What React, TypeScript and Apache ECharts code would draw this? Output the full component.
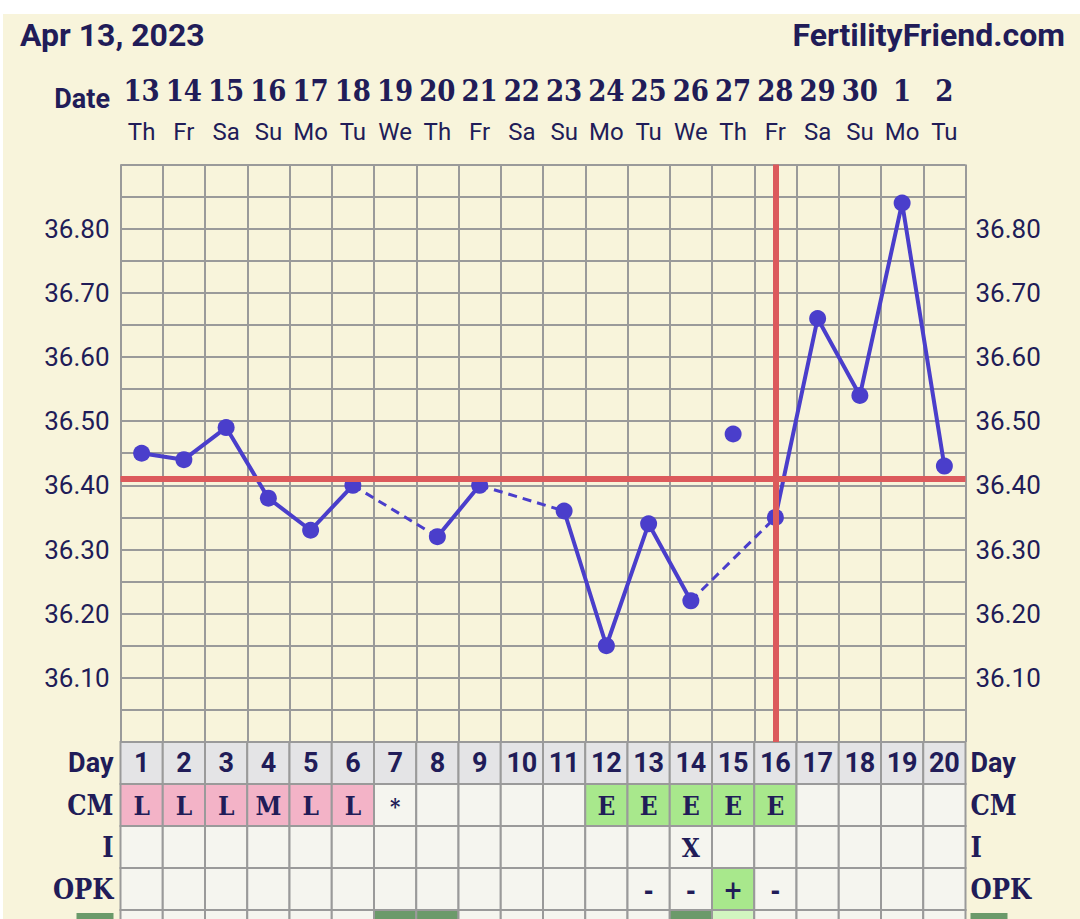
import React, { useEffect, useRef } from 'react';
import * as echarts from 'echarts';

const chartDate = 'Apr 13, 2023';
const siteName = 'FertilityFriend.com';
const dates = ['13', '14', '15', '16', '17', '18', '19', '20', '21', '22', '23', '24', '25', '26', '27', '28', '29', '30', '1', '2'];
const weekdays = ['Th', 'Fr', 'Sa', 'Su', 'Mo', 'Tu', 'We', 'Th', 'Fr', 'Sa', 'Su', 'Mo', 'Tu', 'We', 'Th', 'Fr', 'Sa', 'Su', 'Mo', 'Tu'];
const cycleDays = ['1', '2', '3', '4', '5', '6', '7', '8', '9', '10', '11', '12', '13', '14', '15', '16', '17', '18', '19', '20'];
const temps: (number | null)[] = [36.45, 36.44, 36.49, 36.38, 36.33, 36.40, null, 36.32, 36.40, null, 36.36, 36.15, 36.34, 36.22, null, 36.35, 36.66, 36.54, 36.84, 36.43];
const discardedTemps: (number | null)[] = [null, null, null, null, null, null, null, null, null, null, null, null, null, null, 36.48, null, null, null, null, null];
const coverline = 36.415;
const ovulationDay = '16';
const tempMin = 36.0;
const tempMax = 36.9;
const tempStep = 0.05;
const labelledMin = 36.1;
const labelledMax = 36.8;

const rowNames = ['Day', 'CM', 'I', 'OPK', 'Row5'];
const cmRow = ['L', 'L', 'L', 'M', 'L', 'L', '*', '', '', '', '', 'E', 'E', 'E', 'E', 'E', '', '', '', ''];
const intercourseRow = ['', '', '', '', '', '', '', '', '', '', '', '', '', 'X', '', '', '', '', '', ''];
const opkRow = ['', '', '', '', '', '', '', '', '', '', '', '', '-', '-', '+', '-', '', '', '', ''];
const row5 = ['', '', '', '', '', '', 'dark', 'dark', '', '', '', '', '', 'dark', 'light', '', '', '', '', ''];

const NAVY = '#211c58';
const BLUE = '#4a3ecb';
const RED = '#dc5a5c';
const GRIDC = '#9a9a9a';
const CREAM = '#f8f4db';
const CELL = '#f5f5ef';
const PINK = '#f3b3c7';
const GREEN = '#a8e88c';
const DAYGRAY = '#e4e4e6';
const DARKGREEN = '#6b9a6a';
const LIGHTGREEN = '#d2f5c0';
const SLAB = "'DejaVu Serif Condensed', 'DejaVu Serif', serif";

function buildDashedSegments() {
  const segs: (number | null)[][] = [];
  let prev = -1;
  temps.forEach((t, i) => {
    if (t == null) return;
    if (prev >= 0 && i - prev > 1) {
      const arr: (number | null)[] = temps.map(() => null);
      arr[prev] = temps[prev];
      arr[i] = t;
      segs.push(arr);
    }
    prev = i;
  });
  return segs;
}

type Cell = { text: string; fill: string; font: 'day' | 'slab' };

function buildCells() {
  const cells: { value: number[]; cell: Cell }[] = [];
  for (let c = 0; c < cycleDays.length; c++) {
    cells.push({ value: [c, 0], cell: { text: cycleDays[c], fill: DAYGRAY, font: 'day' } });
    const cm = cmRow[c];
    cells.push({ value: [c, 1], cell: { text: cm, fill: cm === 'L' || cm === 'M' ? PINK : cm === 'E' ? GREEN : CELL, font: 'slab' } });
    cells.push({ value: [c, 2], cell: { text: intercourseRow[c], fill: CELL, font: 'slab' } });
    const o = opkRow[c];
    cells.push({ value: [c, 3], cell: { text: o, fill: o === '+' ? GREEN : CELL, font: 'slab' } });
    const r5 = row5[c];
    cells.push({ value: [c, 4], cell: { text: '', fill: r5 === 'dark' ? DARKGREEN : r5 === 'light' ? LIGHTGREEN : CELL, font: 'slab' } });
  }
  return cells;
}

const yLabel = (v: number) => {
  const tenth = Math.round(v * 10);
  if (Math.abs(tenth - v * 10) < 1e-6 && v >= labelledMin - 1e-6 && v <= labelledMax + 1e-6) return v.toFixed(2);
  return '';
};

export default function App() {
  const ref = useRef<HTMLDivElement>(null);
  useEffect(() => {
    if (!ref.current) return;
    const chart = echarts.init(ref.current, undefined, { renderer: 'svg' });
    const cells = buildCells();
    const segs = buildDashedSegments();
    const ovIdx = cycleDays.indexOf(ovulationDay);

    const rowLabelFormatter = (v: string) =>
      v === 'Day' ? '{day|Day}' : v === 'Row5' ? '{sw|}' : `{slab|${v}}`;
    const rowRich = {
      day: { fontFamily: 'Roboto', fontWeight: 'bold', fontSize: 27, color: NAVY },
      slab: { fontFamily: SLAB, fontWeight: 'bold', fontSize: 27, color: NAVY },
      sw: { width: 37, height: 36, backgroundColor: DARKGREEN },
    };

    const option: any = {
      animation: false,
      backgroundColor: CREAM,
      graphic: [
        { type: 'rect', silent: true, shape: { x: 0, y: 0, width: 1080, height: 14 }, style: { fill: '#ffffff' } },
        { type: 'rect', silent: true, shape: { x: 0, y: 0, width: 3, height: 960 }, style: { fill: '#ffffff' } },
        { type: 'text', left: 20, top: 19, style: { text: chartDate, fontFamily: 'Roboto', fontWeight: 'bold', fontSize: 32, fill: NAVY } },
        { type: 'text', right: 15, top: 19, style: { text: siteName, fontFamily: 'Roboto', fontWeight: 'bold', fontSize: 32, fill: NAVY } },
        { type: 'text', x: 110, y: 99, style: { text: 'Date', align: 'right', verticalAlign: 'middle', fontFamily: 'Roboto', fontWeight: 'bold', fontSize: 27, fill: NAVY } },
      ],
      grid: [
        { left: 120.5, top: 164.5, width: 845, height: 577.5 },
        { left: 120.5, top: 742, width: 845, height: 210 },
      ],
      xAxis: [
        {
          type: 'category', gridIndex: 0, position: 'top', data: dates, boundaryGap: true,
          axisLine: { show: false }, axisTick: { show: false },
          axisLabel: { interval: 0, margin: 74, verticalAlign: 'middle', color: NAVY, fontFamily: SLAB, fontWeight: 'bold', fontSize: 29 },
          splitLine: { show: true, interval: 0, lineStyle: { color: GRIDC, width: 2 } },
        },
        {
          type: 'category', gridIndex: 0, position: 'top', data: weekdays, boundaryGap: true,
          axisLine: { show: false }, axisTick: { show: false },
          axisLabel: { interval: 0, margin: 33, verticalAlign: 'middle', color: NAVY, fontFamily: 'Roboto', fontSize: 24 },
          splitLine: { show: false },
        },
        {
          type: 'category', gridIndex: 1, data: cycleDays, boundaryGap: true,
          axisLine: { show: false }, axisTick: { show: false }, axisLabel: { show: false }, splitLine: { show: false },
        },
      ],
      yAxis: [
        {
          type: 'value', gridIndex: 0, min: tempMin, max: tempMax, interval: tempStep, position: 'left',
          axisLine: { show: false }, axisTick: { show: false },
          axisLabel: { formatter: yLabel, margin: 11, color: NAVY, fontFamily: 'Roboto', fontSize: 26 },
          splitLine: { show: true, lineStyle: { color: GRIDC, width: 2 } },
        },
        {
          type: 'value', gridIndex: 0, min: tempMin, max: tempMax, interval: tempStep, position: 'right',
          axisLine: { show: false }, axisTick: { show: false },
          axisLabel: { formatter: yLabel, margin: 10, color: NAVY, fontFamily: 'Roboto', fontSize: 26 },
          splitLine: { show: false },
        },
        {
          type: 'category', gridIndex: 1, data: rowNames, inverse: true, position: 'left',
          axisLine: { show: false }, axisTick: { show: false },
          axisLabel: { interval: 0, margin: 7, formatter: rowLabelFormatter, rich: rowRich, align: 'right' },
          splitLine: { show: false },
        },
        {
          type: 'category', gridIndex: 1, data: rowNames, inverse: true, position: 'right',
          axisLine: { show: false }, axisTick: { show: false },
          axisLabel: { interval: 0, margin: 5, formatter: rowLabelFormatter, rich: rowRich, align: 'left' },
          splitLine: { show: false },
        },
      ],
      series: [
        {
          type: 'line', xAxisIndex: 0, yAxisIndex: 0, data: [], z: 1, silent: true,
          markLine: {
            silent: true, symbol: ['none', 'none'], label: { show: false },
            lineStyle: { color: RED, width: 6, type: 'solid' },
            data: [{ yAxis: coverline }, { xAxis: ovIdx }],
          },
        },
        ...segs.map((s) => ({
          type: 'line', xAxisIndex: 0, yAxisIndex: 0, data: s, connectNulls: true, showSymbol: false, z: 3,
          lineStyle: { color: BLUE, width: 3, type: [9, 6] },
        })),
        {
          type: 'line', xAxisIndex: 0, yAxisIndex: 0, data: temps, connectNulls: false, z: 4,
          symbol: 'circle', symbolSize: 17, itemStyle: { color: BLUE }, lineStyle: { color: BLUE, width: 4 },
        },
        {
          type: 'scatter', xAxisIndex: 0, yAxisIndex: 0, data: discardedTemps, z: 4,
          symbol: 'circle', symbolSize: 17, itemStyle: { color: BLUE, opacity: 1 },
        },
        {
          type: 'custom', xAxisIndex: 2, yAxisIndex: 2, coordinateSystem: 'cartesian2d', z: 2,
          data: cells.map((c) => c.value),
          renderItem: (params: any, api: any) => {
            const col = api.value(0);
            const row = api.value(1);
            const pt = api.coord([col, row]);
            const sz = api.size([1, 1]);
            const cell = cells[params.dataIndex].cell;
            return {
              type: 'group',
              children: [
                {
                  type: 'rect',
                  shape: { x: pt[0] - sz[0] / 2, y: pt[1] - sz[1] / 2, width: sz[0], height: sz[1] },
                  style: { fill: cell.fill, stroke: GRIDC, lineWidth: 2 },
                },
                {
                  type: 'text',
                  style: {
                    text: cell.text, x: pt[0], y: pt[1] + (cell.font === 'slab' ? 1 : 0), align: 'center', verticalAlign: 'middle',
                    fontFamily: cell.font === 'day' ? 'Roboto' : SLAB, fontWeight: 'bold',
                    fontSize: cell.font === 'day' ? 27 : cell.text === '*' ? 22 : 26, fill: NAVY,
                  },
                },
              ],
            };
          },
        },
      ],
    };
    chart.setOption(option);
    return () => chart.dispose();
  }, []);
  return <div ref={ref} style={{ position: 'fixed', left: 0, top: 0, width: 1080, height: 960 }} />;
}
